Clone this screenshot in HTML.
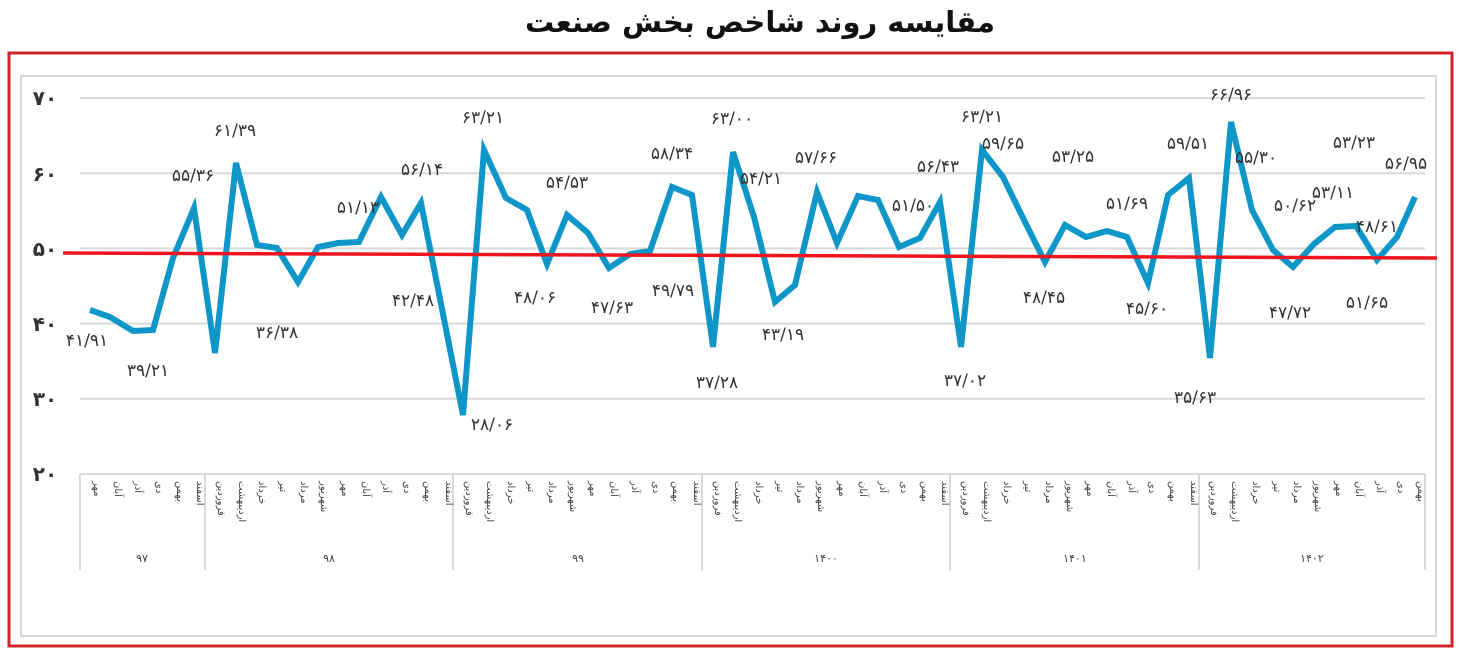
<!DOCTYPE html>
<html><head><meta charset="utf-8"><style>
html,body{margin:0;padding:0;background:#fff;width:1463px;height:661px;overflow:hidden}
svg{display:block}
</style></head><body>
<svg width="1463" height="661" xmlns="http://www.w3.org/2000/svg" font-family="'DejaVu Sans','Liberation Sans',sans-serif">
<text x="760" y="32" text-anchor="middle" font-size="29" font-weight="bold" fill="#111" direction="rtl">مقایسه روند شاخص بخش صنعت</text>
<rect x="9" y="53" width="1443" height="593" fill="none" stroke="#d0232b" stroke-width="3"/>
<rect x="21" y="76" width="1415" height="560" fill="none" stroke="#d6d6d6" stroke-width="2"/>
<g stroke="#d9d9d9" stroke-width="2">
<line x1="80" y1="98" x2="1425" y2="98"/><line x1="80" y1="173.2" x2="1425" y2="173.2"/>
<line x1="80" y1="248.4" x2="1425" y2="248.4"/><line x1="80" y1="323.6" x2="1425" y2="323.6"/>
<line x1="80" y1="398.8" x2="1425" y2="398.8"/><line x1="80" y1="474" x2="1425" y2="474"/>
<line x1="80" y1="474" x2="80" y2="570"/><line x1="205" y1="474" x2="205" y2="570"/>
<line x1="453" y1="474" x2="453" y2="570"/><line x1="702" y1="474" x2="702" y2="570"/>
<line x1="950" y1="474" x2="950" y2="570"/><line x1="1199" y1="474" x2="1199" y2="570"/>
<line x1="1425" y1="474" x2="1425" y2="570"/>
</g>
<g font-size="20" font-weight="bold" fill="#333" text-anchor="middle" direction="ltr">
<text x="45" y="105">۷۰</text><text x="45" y="181">۶۰</text><text x="45" y="256">۵۰</text>
<text x="45" y="331">۴۰</text><text x="45" y="406">۳۰</text><text x="45" y="481">۲۰</text>
</g>
<polyline fill="none" stroke="#0f96c9" stroke-width="6" stroke-linejoin="miter" points="90,310 110,317 133,331 153,330 173,258 194,208 215,353 236,163 257,245 277,248 298,282 318,247 338,243 359,242 381,197 402,235 421,203 442,309 463,415 484,150 506,198 527,210 547,264 567,215 588,233 609,268 630,254 650,251 672,187 692,195 713,347 733,152 754,217 775,302 795,285 817,192 837,243 858,196 878,200 899,247 920,238 940,202 961,347 982,150 1003,177 1024,220 1045,262 1065,225 1086,237 1107,231 1127,237 1148,283 1168,195 1189,178 1210,358 1231,122 1252,210 1273,250 1293,267 1314,244 1335,227 1356,226 1377,260 1397,237 1415,197"/>
<line x1="63" y1="253" x2="1437" y2="258" stroke="#f0141e" stroke-width="3.5"/>
<g font-size="17" fill="#333" text-anchor="middle" direction="ltr">
<text x="87" y="346">۴۱/۹۱</text><text x="148" y="376">۳۹/۲۱</text><text x="193" y="181">۵۵/۳۶</text>
<text x="235" y="136">۶۱/۳۹</text><text x="277" y="338">۳۶/۳۸</text><text x="358" y="213">۵۱/۱۳</text>
<text x="422" y="175">۵۶/۱۴</text><text x="413" y="306">۴۲/۴۸</text><text x="483" y="123">۶۳/۲۱</text>
<text x="492" y="430">۲۸/۰۶</text><text x="567" y="188">۵۴/۵۳</text><text x="535" y="303">۴۸/۰۶</text>
<text x="612" y="313">۴۷/۶۳</text><text x="672" y="159">۵۸/۳۴</text><text x="673" y="296">۴۹/۷۹</text>
<text x="732" y="124">۶۳/۰۰</text><text x="761" y="184">۵۴/۲۱</text><text x="717" y="388">۳۷/۲۸</text>
<text x="783" y="340">۴۳/۱۹</text><text x="816" y="163">۵۷/۶۶</text><text x="913" y="211">۵۱/۵۰</text>
<text x="938" y="172">۵۶/۴۳</text><text x="965" y="386">۳۷/۰۲</text><text x="982" y="122">۶۳/۲۱</text>
<text x="1003" y="149">۵۹/۶۵</text><text x="1073" y="162">۵۳/۲۵</text><text x="1044" y="303">۴۸/۴۵</text>
<text x="1127" y="209">۵۱/۶۹</text><text x="1147" y="314">۴۵/۶۰</text><text x="1188" y="149">۵۹/۵۱</text>
<text x="1195" y="403">۳۵/۶۳</text><text x="1231" y="100">۶۶/۹۶</text><text x="1256" y="163">۵۵/۳۰</text>
<text x="1295" y="211">۵۰/۶۲</text><text x="1290" y="318">۴۷/۷۲</text><text x="1333" y="198">۵۳/۱۱</text>
<text x="1354" y="148">۵۳/۲۳</text><text x="1377" y="232">۴۸/۶۱</text><text x="1367" y="308">۵۱/۶۵</text>
<text x="1406" y="169">۵۶/۹۵</text>
</g>
<g font-size="10" fill="#444">
<text transform="translate(94,481) rotate(90)">مهر</text><text transform="translate(115,481) rotate(90)">آبان</text><text transform="translate(135,481) rotate(90)">آذر</text><text transform="translate(156,481) rotate(90)">دی</text><text transform="translate(177,481) rotate(90)">بهمن</text><text transform="translate(197,481) rotate(90)">اسفند</text>
<text transform="translate(218,481) rotate(90)">فروردین</text><text transform="translate(239,481) rotate(90)">اردیبهشت</text><text transform="translate(259,481) rotate(90)">خرداد</text><text transform="translate(280,481) rotate(90)">تیر</text><text transform="translate(301,481) rotate(90)">مرداد</text><text transform="translate(321,481) rotate(90)">شهریور</text><text transform="translate(342,481) rotate(90)">مهر</text><text transform="translate(363,481) rotate(90)">آبان</text><text transform="translate(383,481) rotate(90)">آذر</text><text transform="translate(404,481) rotate(90)">دی</text><text transform="translate(425,481) rotate(90)">بهمن</text><text transform="translate(446,481) rotate(90)">اسفند</text>
<text transform="translate(466,481) rotate(90)">فروردین</text><text transform="translate(487,481) rotate(90)">اردیبهشت</text><text transform="translate(508,481) rotate(90)">خرداد</text><text transform="translate(528,481) rotate(90)">تیر</text><text transform="translate(549,481) rotate(90)">مرداد</text><text transform="translate(570,481) rotate(90)">شهریور</text><text transform="translate(590,481) rotate(90)">مهر</text><text transform="translate(611,481) rotate(90)">آبان</text><text transform="translate(632,481) rotate(90)">آذر</text><text transform="translate(653,481) rotate(90)">دی</text><text transform="translate(673,481) rotate(90)">بهمن</text><text transform="translate(694,481) rotate(90)">اسفند</text>
<text transform="translate(715,481) rotate(90)">فروردین</text><text transform="translate(735,481) rotate(90)">اردیبهشت</text><text transform="translate(756,481) rotate(90)">خرداد</text><text transform="translate(777,481) rotate(90)">تیر</text><text transform="translate(797,481) rotate(90)">مرداد</text><text transform="translate(818,481) rotate(90)">شهریور</text><text transform="translate(839,481) rotate(90)">مهر</text><text transform="translate(860,481) rotate(90)">آبان</text><text transform="translate(880,481) rotate(90)">آذر</text><text transform="translate(901,481) rotate(90)">دی</text><text transform="translate(922,481) rotate(90)">بهمن</text><text transform="translate(942,481) rotate(90)">اسفند</text>
<text transform="translate(963,481) rotate(90)">فروردین</text><text transform="translate(984,481) rotate(90)">اردیبهشت</text><text transform="translate(1004,481) rotate(90)">خرداد</text><text transform="translate(1025,481) rotate(90)">تیر</text><text transform="translate(1046,481) rotate(90)">مرداد</text><text transform="translate(1067,481) rotate(90)">شهریور</text><text transform="translate(1087,481) rotate(90)">مهر</text><text transform="translate(1108,481) rotate(90)">آبان</text><text transform="translate(1129,481) rotate(90)">آذر</text><text transform="translate(1149,481) rotate(90)">دی</text><text transform="translate(1170,481) rotate(90)">بهمن</text><text transform="translate(1191,481) rotate(90)">اسفند</text>
<text transform="translate(1211,481) rotate(90)">فروردین</text><text transform="translate(1232,481) rotate(90)">اردیبهشت</text><text transform="translate(1253,481) rotate(90)">خرداد</text><text transform="translate(1274,481) rotate(90)">تیر</text><text transform="translate(1294,481) rotate(90)">مرداد</text><text transform="translate(1315,481) rotate(90)">شهریور</text><text transform="translate(1336,481) rotate(90)">مهر</text><text transform="translate(1356,481) rotate(90)">آبان</text><text transform="translate(1377,481) rotate(90)">آذر</text><text transform="translate(1398,481) rotate(90)">دی</text><text transform="translate(1418,481) rotate(90)">بهمن</text>
</g>
<g font-size="11" fill="#444" text-anchor="middle" direction="ltr">
<text x="142" y="562">۹۷</text><text x="329" y="562">۹۸</text><text x="578" y="562">۹۹</text>
<text x="826" y="562">۱۴۰۰</text><text x="1075" y="562">۱۴۰۱</text><text x="1312" y="562">۱۴۰۲</text>
</g>
</svg>
</body></html>
